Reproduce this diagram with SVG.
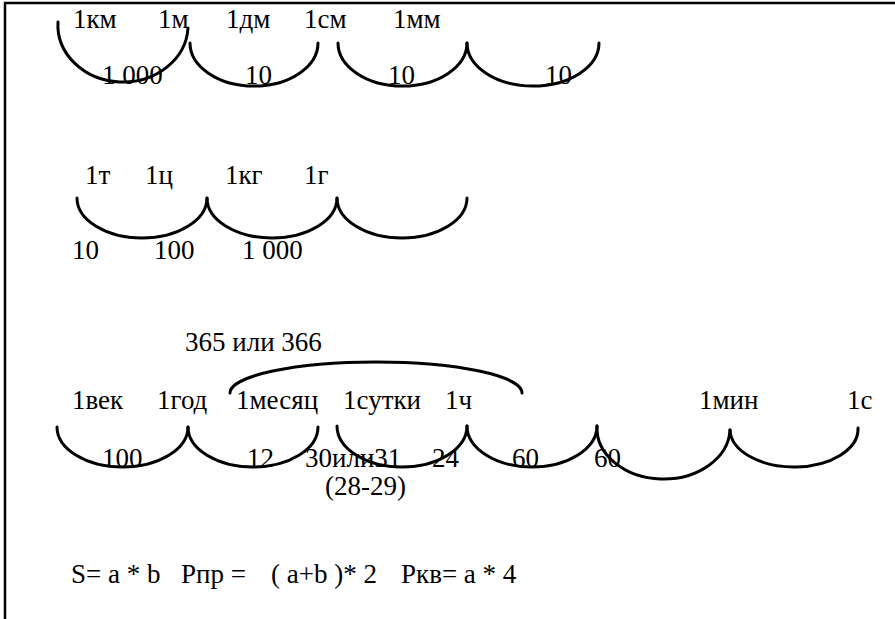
<svg xmlns="http://www.w3.org/2000/svg" width="895" height="619" viewBox="0 0 895 619">
<style>
.arc{fill:none;stroke:#000;stroke-width:3;stroke-linecap:round}
.frame{fill:none;stroke:#000;stroke-width:2.5}
</style>
<rect width="895" height="619" fill="#fff"/>
<g id="frame">
<path class="frame" d="M5,619 V3 H895"/>
</g>
<g id="connectors">
<path class="arc" d="M58,22 A65,57 0 0 0 188,28"/>
<path class="arc" d="M190,43 A64,43 0 0 0 318,43"/>
<path class="arc" d="M338,43 A64.5,43 0 0 0 467,43"/>
<path class="arc" d="M467,43 A66,43 0 0 0 599,43"/>
<path class="arc" d="M77,198 A65,40 0 0 0 207,198"/>
<path class="arc" d="M207,198 A65,40 0 0 0 337,198"/>
<path class="arc" d="M337,198 A65,40 0 0 0 467,198"/>
<path class="arc" d="M230,393 A146,31 0 0 1 522,393"/>
<path class="arc" d="M57,427 A65.5,40 0 0 0 188,427"/>
<path class="arc" d="M188,427 A65,40 0 0 0 318,427"/>
<path class="arc" d="M337,426 A65,41 0 0 0 467,426"/>
<path class="arc" d="M467,426 A65,41 0 0 0 597,426"/>
<path class="arc" d="M597,426 A66.5,51 0 0 0 730,430"/>
<path class="arc" d="M730,430 A64,38 0 0 0 858,428"/>
</g>
<g id="length">
<g id="n-km"><text font-family="Liberation Serif" font-size="27" x="73" y="28">1км</text></g>
<g id="n-m"><text font-family="Liberation Serif" font-size="27" x="158" y="28">1м</text></g>
<g id="n-dm"><text font-family="Liberation Serif" font-size="27" x="226" y="28">1дм</text></g>
<g id="n-cm"><text font-family="Liberation Serif" font-size="27" x="304" y="28">1см</text></g>
<g id="n-mm"><text font-family="Liberation Serif" font-size="27" x="393" y="28">1мм</text></g>
<g id="l-km-m"><text font-family="Liberation Serif" font-size="27" x="102" y="84">1 000</text></g>
<g id="l-m-dm"><text font-family="Liberation Serif" font-size="27" x="245" y="84">10</text></g>
<g id="l-dm-cm"><text font-family="Liberation Serif" font-size="27" x="388" y="84">10</text></g>
<g id="l-cm-mm"><text font-family="Liberation Serif" font-size="27" x="545" y="84">10</text></g>
</g>
<g id="mass">
<g id="n-t"><text font-family="Liberation Serif" font-size="27" x="85" y="184">1т</text></g>
<g id="n-c"><text font-family="Liberation Serif" font-size="27" x="145" y="184">1ц</text></g>
<g id="n-kg"><text font-family="Liberation Serif" font-size="27" x="225" y="184">1кг</text></g>
<g id="n-g"><text font-family="Liberation Serif" font-size="27" x="304" y="184">1г</text></g>
<g id="l-t-c"><text font-family="Liberation Serif" font-size="27" x="72" y="259">10</text></g>
<g id="l-c-kg"><text font-family="Liberation Serif" font-size="27" x="154" y="259">100</text></g>
<g id="l-kg-g"><text font-family="Liberation Serif" font-size="27" x="242" y="259">1 000</text></g>
</g>
<g id="time">
<g id="l-year-day"><text font-family="Liberation Serif" font-size="27" x="185" y="351">365 или 366</text></g>
<g id="n-vek"><text font-family="Liberation Serif" font-size="27" x="72" y="409">1век</text></g>
<g id="n-god"><text font-family="Liberation Serif" font-size="27" x="157" y="409">1год</text></g>
<g id="n-mes"><text font-family="Liberation Serif" font-size="27" x="236" y="409">1месяц</text></g>
<g id="n-sut"><text font-family="Liberation Serif" font-size="27" x="343" y="409">1сутки</text></g>
<g id="n-ch"><text font-family="Liberation Serif" font-size="27" x="445" y="409">1ч</text></g>
<g id="n-min"><text font-family="Liberation Serif" font-size="27" x="699" y="409">1мин</text></g>
<g id="n-s"><text font-family="Liberation Serif" font-size="27" x="847" y="409">1с</text></g>
<g id="l-vek-god"><text font-family="Liberation Serif" font-size="27" x="102" y="467">100</text></g>
<g id="l-god-mes"><text font-family="Liberation Serif" font-size="27" x="247" y="467">12</text></g>
<g id="l-mes-sut"><text font-family="Liberation Serif" font-size="27" x="305" y="467">30или31</text><text font-family="Liberation Serif" font-size="27" x="325" y="495">(28-29)</text></g>
<g id="l-sut-ch"><text font-family="Liberation Serif" font-size="27" x="432" y="467">24</text></g>
<g id="l-ch-min"><text font-family="Liberation Serif" font-size="27" x="512" y="467">60</text></g>
<g id="l-min-s"><text font-family="Liberation Serif" font-size="27" x="594" y="467">60</text></g>
</g>
<g id="formulas">
<text font-family="Liberation Serif" font-size="27" x="71" y="583">S= a * b</text>
<text font-family="Liberation Serif" font-size="27" x="181" y="583">Pпр =</text>
<text font-family="Liberation Serif" font-size="27" x="271" y="583">( a+b )* 2</text>
<text font-family="Liberation Serif" font-size="27" x="401" y="583">Pкв= a * 4</text>
</g>
</svg>
